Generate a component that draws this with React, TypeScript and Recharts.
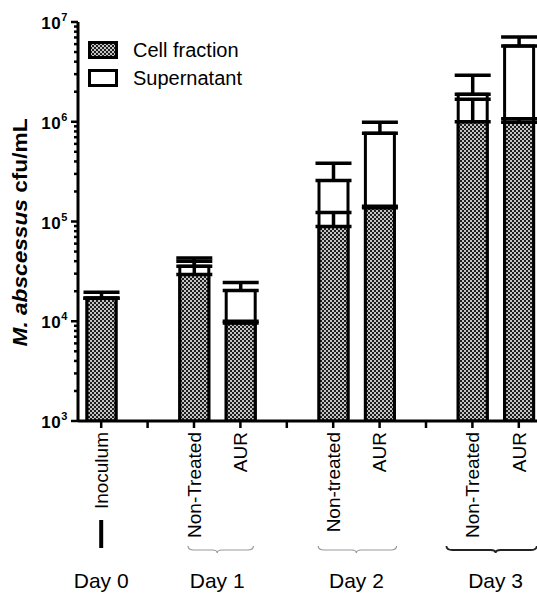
import React from 'react';
import { Bar, BarChart, ErrorBar, Legend, XAxis, YAxis } from 'recharts';

// one slot per x position; blank slots are the gaps between days
const slotIds = ['s0', 's1', 's2', 's3', 's4', 's5', 's6', 's7', 's8', 's9'];
const slotLabels = ['Inoculum', '', 'Non-Treated', 'AUR', '', 'Non-treated', 'AUR', '', 'Non-Treated', 'AUR'];

// cfu/mL
const cellFraction = [17000, null, 29500, 9600, null, 89000, 137000, null, 1000000, 990000];
const cellErrPlus = [0, null, 10500, 400, null, 34000, 5000, null, 680000, 80000];
const totalCfu = [17000, null, 35500, 20300, null, 258000, 766000, null, 1890000, 5740000];
const totalErrPlus = [2500, null, 7500, 4100, null, 125000, 222000, null, 1040000, 1320000];

const dayLabels = ['Day 0', 'Day 1', 'Day 2', 'Day 3'];
const dayFirstSlot = [0, 2, 5, 8];
const dayLastSlot = [0, 3, 6, 9];

const legendNames = ['Cell fraction', 'Supernatant'];

const majorTicks = [1e3, 1e4, 1e5, 1e6, 1e7];
const minorSteps = [2, 3, 4, 5, 6, 7, 8, 9];

const yTicks: number[] = [];
majorTicks.forEach((t, i) => {
  yTicks.push(t);
  if (i < majorTicks.length - 1) minorSteps.forEach((m) => yTicks.push(t * m));
});

const data = slotIds.map((id, i) => ({
  id,
  cell: cellFraction[i],
  cellErr: cellErrPlus[i] == null ? null : [0, cellErrPlus[i]],
  total: totalCfu[i],
  totalErr: totalErrPlus[i] == null ? null : [0, totalErrPlus[i]],
}));

const FONT = '"Liberation Sans", Arial, sans-serif';

const YTick = (props: any) => {
  const { x, y, payload } = props;
  const v = payload.value;
  const exp = Math.round(Math.log10(v));
  const isMajor = Math.abs(Math.log10(v) - exp) < 1e-6;
  return (
    <g>
      <line x1={isMajor ? x + 1 : x + 4} x2={x + 8} y1={y} y2={y} stroke="#000" strokeWidth={2.5} />
      {isMajor && (
        <text x={x - 2} y={y + 7} textAnchor="end" fontFamily={FONT} fontWeight="bold" fontSize={17} letterSpacing={0.6} fill="#000">
          10
          <tspan fontSize={11} dy={-8}>{exp}</tspan>
        </text>
      )}
    </g>
  );
};

const XTick = (props: any) => {
  const { x, y, index, width } = props;
  const label = slotLabels[index];
  const step = (width || 464) / slotIds.length;
  const day = dayFirstSlot.indexOf(index);
  let dayMark = null;
  if (day >= 0) {
    const span = (dayLastSlot[day] - dayFirstSlot[day]) * step;
    const cx = x + span / 2;
    const padL = [0, 6, 15, 26][day];
    const padR = [0, 13, 17, 18][day];
    const x1 = x - padL;
    const x2 = x + span + padR;
    const by = 546;
    const dark = day === 3;
    dayMark = (
      <g>
        {span > 0 && (
          <path
            d={`M${x1},${by} Q${x1},${by + 4} ${x1 + 6},${by + 4} L${cx - 5},${by + 4} Q${cx},${by + 4} ${cx},${by + 7} Q${cx},${by + 4} ${cx + 5},${by + 4} L${x2 - 6},${by + 4} Q${x2},${by + 4} ${x2},${by}`}
            fill="none"
            stroke={dark ? '#222' : '#999'}
            strokeWidth={dark ? 1.8 : 1.2}
          />
        )}
        <text x={cx} y={588} textAnchor="middle" fontFamily={FONT} fontSize={21} fill="#000">
          {dayLabels[day]}
        </text>
      </g>
    );
  }
  return (
    <g>
      {label && (
        <text
          x={x}
          y={y + 4}
          dy="0.36em"
          transform={`rotate(-90, ${x}, ${y + 4})`}
          textAnchor="end"
          fontFamily={FONT}
          fontSize={19}
          fill="#000"
        >
          {label}
        </text>
      )}
      {index === 0 && <line x1={x} x2={x} y1={520} y2={548} stroke="#000" strokeWidth={4} />}
      {dayMark}
    </g>
  );
};

const YLabel = (props: any) => {
  const vb = props.viewBox || { x: 0, y: 22, height: 398 };
  const cy = vb.y + vb.height / 2 + 11;
  const cx = 27;
  return (
    <text
      x={cx}
      y={cy}
      transform={`rotate(-90, ${cx}, ${cy})`}
      textAnchor="middle"
      fontFamily={FONT}
      fontWeight="bold"
      fontSize={21}
      textLength={228}
      lengthAdjust="spacingAndGlyphs"
      fill="#000"
    >
      <tspan fontStyle="italic">M. abscessus</tspan> cfu/mL
    </text>
  );
};

const LegendBox = () => (
  <div style={{ fontFamily: FONT, fontSize: 20, color: '#000' }}>
    {legendNames.map((name, i) => (
      <div key={name} style={{ display: 'flex', alignItems: 'center', height: 28 }}>
        <svg width={30} height={18} style={{ display: 'block' }}>
          <rect x={1.5} y={1.5} width={27} height={15} fill={i === 0 ? 'url(#cellPat)' : '#fff'} stroke="#000" strokeWidth={3} />
        </svg>
        <span style={{ marginLeft: 15 }}>{name}</span>
      </div>
    ))}
  </div>
);

const App = () => {
  return (
    <div style={{ position: 'absolute', left: 0, top: 0, width: 537, height: 593, overflow: 'hidden', background: '#fff' }}>
      <BarChart width={542} height={593} data={data} margin={{ top: 22, right: 0, left: 0, bottom: 0 }}>
        <defs>
          <pattern id="cellPat" width="4" height="4" patternUnits="userSpaceOnUse">
            <rect width="4" height="4" fill="#c4c4c4" />
            <rect width="2" height="2" fill="#1e1e1e" />
            <rect x="2" y="2" width="2" height="2" fill="#1e1e1e" />
          </pattern>
        </defs>
        <XAxis xAxisId="cell" dataKey="id" hide height={0} />
        <XAxis
          xAxisId="total"
          dataKey="id"
          height={172}
          interval={0}
          tickSize={7}
          tickMargin={0}
          tickLine={{ stroke: '#000', strokeWidth: 2.5 }}
          axisLine={{ stroke: '#000', strokeWidth: 3 }}
          tick={<XTick />}
        />
        <YAxis
          scale="log"
          domain={[1000, 1e7]}
          allowDataOverflow
          ticks={yTicks}
          interval={0}
          width={78}
          tickSize={8}
          tickMargin={0}
          tickLine={false}
          axisLine={{ stroke: '#000', strokeWidth: 3 }}
          tick={<YTick />}
          label={{ content: <YLabel /> }}
        />
        <Legend
          layout="vertical"
          align="center"
          verticalAlign="middle"
          content={<LegendBox />}
          wrapperStyle={{ left: 88, top: 36, width: 200 }}
        />
        <Bar xAxisId="total" dataKey="total" barSize={29} fill="#fff" stroke="#000" strokeWidth={3} isAnimationActive={false}>
          <ErrorBar dataKey="totalErr" width={18} stroke="#000" strokeWidth={3.5} direction="y" isAnimationActive={false} />
        </Bar>
        <Bar xAxisId="cell" dataKey="cell" barSize={29} fill="url(#cellPat)" stroke="#000" strokeWidth={3} isAnimationActive={false}>
          <ErrorBar dataKey="cellErr" width={18} stroke="#000" strokeWidth={3.5} direction="y" isAnimationActive={false} />
        </Bar>
      </BarChart>
    </div>
  );
};

export default App;
